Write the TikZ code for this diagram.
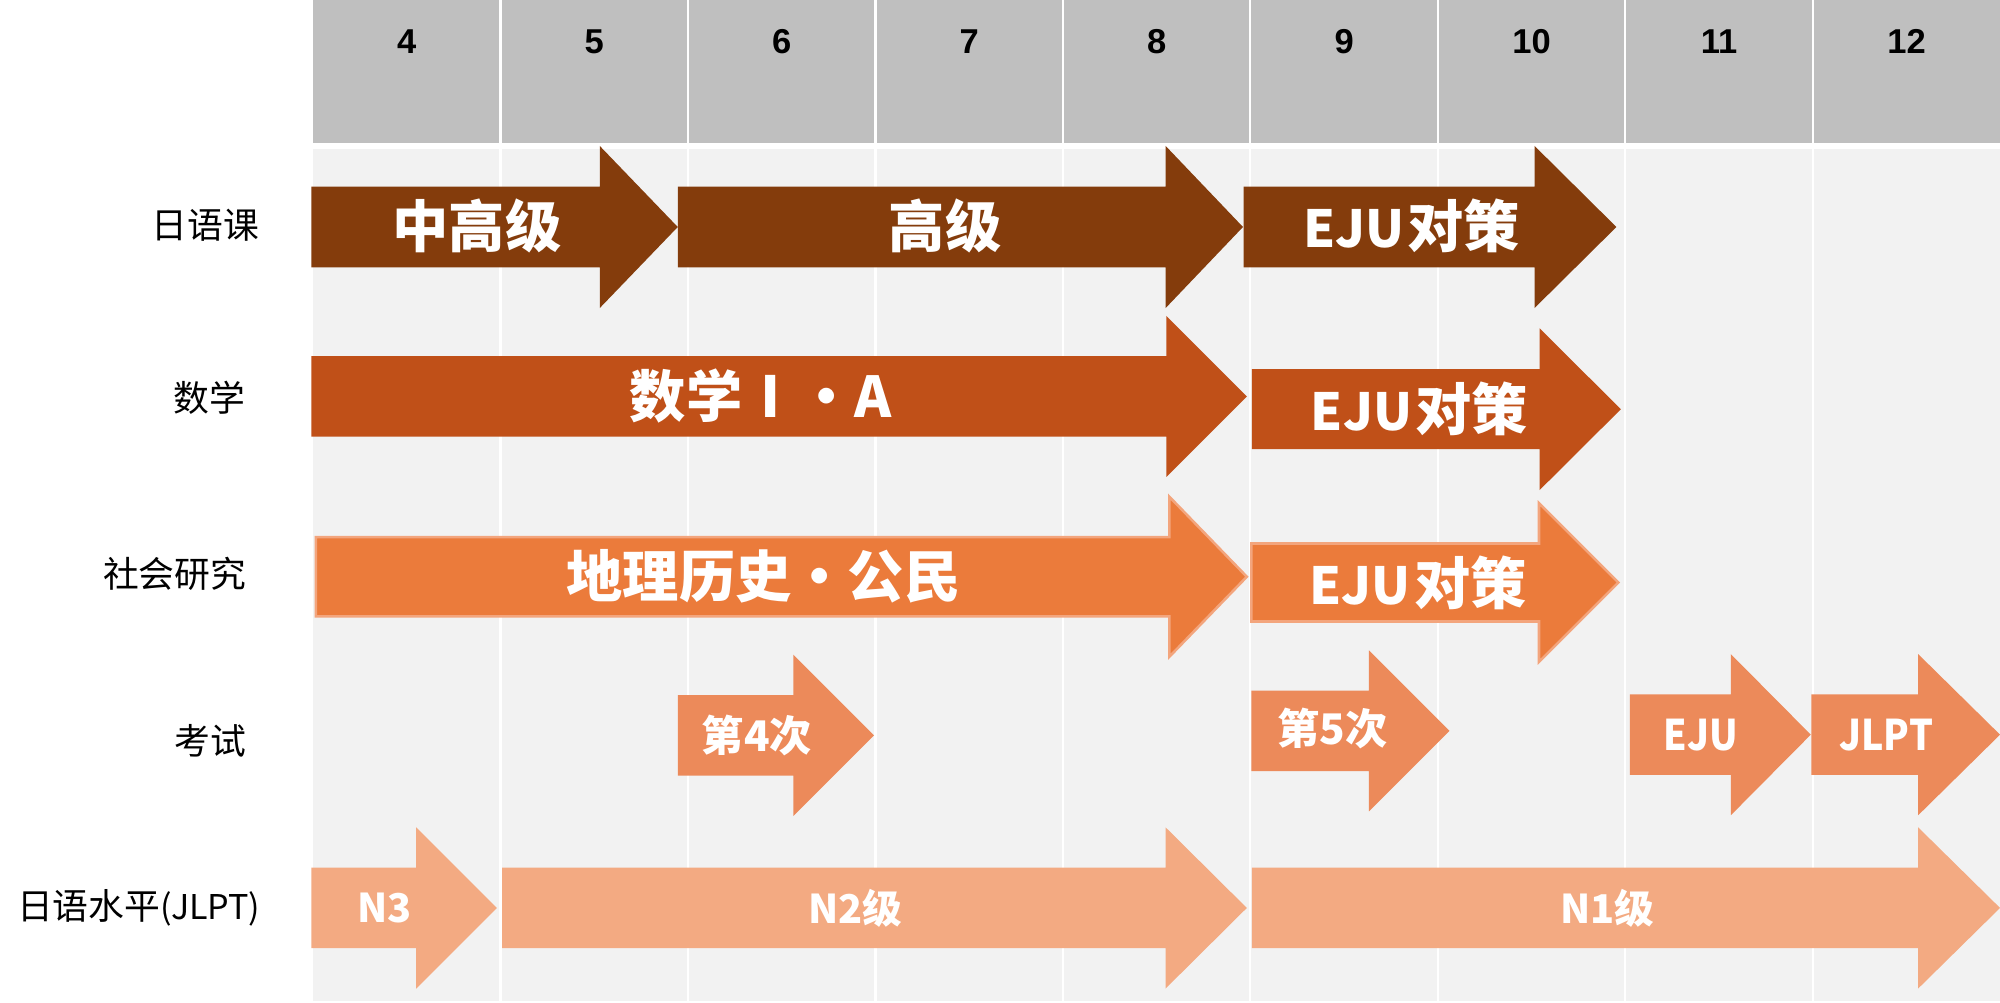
\documentclass[tikz,border=0pt]{standalone}
\usepackage{graphicx}
\usepackage{fontspec}
\newfontfamily\cjk{Noto Sans CJK SC}
\newfontfamily\latf{Liberation Sans}
\definecolor{hdr}{HTML}{BFBFBF}
\definecolor{bodybg}{HTML}{F2F2F2}
\definecolor{rA}{HTML}{843C0C}
\definecolor{rB}{HTML}{C05018}
\definecolor{rC}{HTML}{EB7B3B}
\definecolor{rCb}{HTML}{F3A57D}
\definecolor{rD}{HTML}{EC8A5A}
\definecolor{rE}{HTML}{F3AA82}
\newcommand{\blkarrow}[7]{\path[#1] (#2,{#5-#6}) -- (#3,{#5-#6}) -- (#3,{#5-#7}) -- (#4,#5) -- (#3,{#5+#7}) -- (#3,{#5+#6}) -- (#2,{#5+#6}) -- cycle;}
\newcommand{\ejudc}{{\fontsize{24}{24}\selectfont EJU}\hspace{1.5pt}对策}
\newcommand{\narrowtxt}[1]{\scalebox{0.89}[1]{#1}}
\begin{document}
\begin{tikzpicture}[x=0.6pt,y=-0.6pt,
  hnum/.style={inner sep=0pt,font=\latf\bfseries\fontsize{16.2}{16.2}\selectfont},
  lab/.style={inner sep=0pt,anchor=east,font=\cjk\fontsize{16.8}{16.8}\selectfont},
  tbig/.style={inner sep=0pt,text=white,font=\cjk\bfseries\fontsize{26.4}{26.4}\selectfont},
  tmid/.style={inner sep=0pt,text=white,font=\cjk\bfseries\fontsize{19.8}{19.8}\selectfont},
  tsml/.style={inner sep=0pt,text=white,font=\cjk\bfseries\fontsize{18.6}{18.6}\selectfont},
  sep/.style={white,line width=1pt},
  arA/.style={fill=rA},
  arB/.style={fill=rB},
  arC/.style={fill=rC,draw=rCb,line width=1.2pt},
  arD/.style={fill=rD},
  arE/.style={fill=rE}]
\useasboundingbox (0,0) rectangle (1564,784.3);
% backgrounds
\fill[hdr] (244.8,0) rectangle (1564,112);
\fill[bodybg] (244.8,116.5) rectangle (1564,783);
\foreach \k in {1,...,8}{
  \draw[sep] ({244.8+\k*146.6},0) -- ({244.8+\k*146.6},112);
  \draw[sep] ({244.8+\k*146.6},116.5) -- ({244.8+\k*146.6},783);
}
% header numbers
\foreach \n [count=\i from 0] in {4,...,12}
  \node[hnum] (m\n) at ({318.1+\i*146.6},32.6) {\n};
% row labels
\node[lab] (l1) at (203,176) {日语课};
\node[lab] (l2) at (192,311) {数学};
\node[lab] (l3) at (193,449) {社会研究};
\node[lab] (l4) at (193,579) {考试};
\node[lab] (l5) at (204,710) {日语水平{\fontsize{16}{16}\selectfont(JLPT)}};
% row 1
\blkarrow{arA}{243.4}{469}{530}{177.5}{31.6}{63.4}
\blkarrow{arA}{530}{911.5}{972}{177.5}{31.6}{63.4}
\blkarrow{arA}{972.5}{1200}{1264}{177.5}{31.6}{63.4}
% row 2
\blkarrow{arB}{243.4}{912}{975}{310}{31.5}{63}
\blkarrow{arB}{979}{1204}{1267.5}{320}{31.3}{63.2}
% row 3
\blkarrow{arC}{247}{914.5}{975}{451}{31}{62.5}
\blkarrow{arC}{978.5}{1203.5}{1265.5}{455.5}{30.5}{62}
% row 4
\blkarrow{arD}{530}{620.5}{683.5}{575}{31.5}{63}
\blkarrow{arD}{978.5}{1070.5}{1133.5}{571.5}{31.5}{63}
\blkarrow{arD}{1274.5}{1353.5}{1416}{574.5}{31.5}{63}
\blkarrow{arD}{1416.5}{1500}{1564}{574.5}{31.5}{63}
% row 5
\blkarrow{arE}{243.4}{325.5}{388.5}{710}{31.5}{63}
\blkarrow{arE}{392.6}{911.5}{975}{710}{31.5}{63}
\blkarrow{arE}{979}{1500}{1564}{710}{31.5}{63}
% arrow texts
\node[tbig] (zg) at (373,177) {中高级};
\node[tbig] (gj) at (739,177) {高级};
\node[tbig] (ej1) at (1104,177) {\ejudc};
\node[tbig] (sx) at (595,310) {数学Ⅰ・A};
\node[tbig] (ej2) at (1110,320) {\ejudc};
\node[tbig] (dl) at (597,451) {地理历史・公民};
\node[tbig] (ej3) at (1109,456) {\ejudc};
\node[tmid] (d4) at (592,575) {第4次};
\node[tmid] (d5) at (1042,570) {第5次};
\node[tmid] (ej4) at (1330,575) {\narrowtxt{EJU}};
\node[tmid] (jl) at (1475,575) {\narrowtxt{JLPT}};
\node[tsml] (n3) at (301,710) {N3};
\node[tsml] (n2) at (669,710) {N2级};
\node[tsml] (n1) at (1257,710) {N1级};
\end{tikzpicture}
\end{document}
